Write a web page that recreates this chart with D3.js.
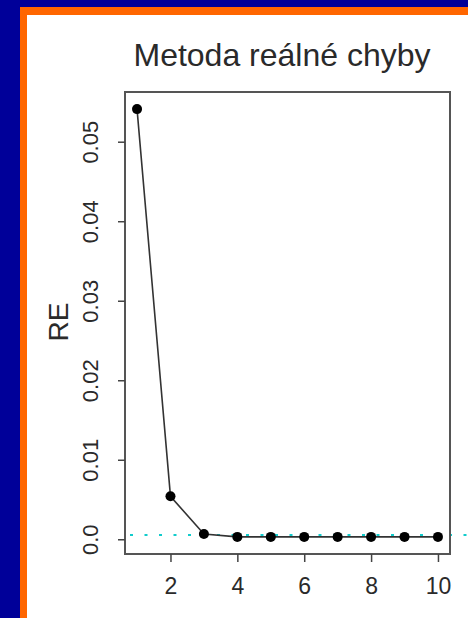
<!DOCTYPE html>
<html><head><meta charset="utf-8">
<script src="https://cdn.jsdelivr.net/npm/d3@7"></script>
<style>
html,body{margin:0;padding:0;background:#000099;}
svg{display:block;}
text{font-family:"Liberation Sans",Arial,Helvetica,sans-serif;fill:#2a2a2a;}
</style></head>
<body>
<svg id="chart" width="468" height="618"></svg>
<script>
const xValues = [1, 2, 3, 4, 5, 6, 7, 8, 9, 10];
const reValues = [0.0541, 0.0054, 0.00066, 0.0003, 0.0003, 0.0003, 0.0003, 0.0003, 0.0003, 0.0003];
const refLineValue = 0.00053;
const xTicks = [2, 4, 6, 8, 10];
const yTicks = [0, 0.01, 0.02, 0.03, 0.04, 0.05];
const yTickLabels = ["0.0", "0.01", "0.02", "0.03", "0.04", "0.05"];
const titleText = "Metoda reálné chyby";
const yLabel = "RE";

const svg = d3.select("#chart");
// slide frame
svg.append("rect").attr("x",0).attr("y",0).attr("width",468).attr("height",618).attr("fill","#000099");
svg.append("rect").attr("x",20).attr("y",7).attr("width",448).attr("height",611).attr("fill","#ff6600");
svg.append("rect").attr("x",27).attr("y",15).attr("width",441).attr("height",603).attr("fill","#ffffff");

const box = {left:125, top:92, right:450, bottom:554};
function pad(ext){const r=ext[1]-ext[0];return [ext[0]-0.04*r, ext[1]+0.04*r];}
const x = d3.scaleLinear().domain(pad(d3.extent(xValues))).range([box.left, box.right]);
const y = d3.scaleLinear().domain(pad(d3.extent(reValues))).range([box.bottom, box.top]);

// reference line (cyan dotted)
svg.append("line")
  .attr("x1", box.left + 5).attr("x2", 468)
  .attr("y1", y(refLineValue)).attr("y2", y(refLineValue))
  .attr("stroke","#11cccc").attr("stroke-width",2).attr("stroke-dasharray","3,11.5");

// line
const pts = xValues.map((d,i)=>[d, reValues[i]]);
svg.append("path").datum(pts)
  .attr("d", d3.line().x(d=>x(d[0])).y(d=>y(d[1])))
  .attr("fill","none").attr("stroke","#333").attr("stroke-width",1.6);
svg.selectAll("circle.pt").data(pts).enter().append("circle")
  .attr("class","pt").attr("cx",d=>x(d[0])).attr("cy",d=>y(d[1])).attr("r",5)
  .attr("fill","#000");

// box
svg.append("rect").attr("x",box.left).attr("y",box.top)
  .attr("width",box.right-box.left).attr("height",box.bottom-box.top)
  .attr("fill","none").attr("stroke","#555").attr("stroke-width",2);

// x axis
const xAxis = d3.axisBottom(x).tickValues(xTicks).tickSize(8).tickPadding(16).tickFormat(d3.format("d"));
const gx = svg.append("g").attr("transform",`translate(0,${box.bottom})`).call(xAxis);
gx.select(".domain").remove();
gx.selectAll(".tick line").attr("stroke","#444").attr("stroke-width",1.5);
gx.selectAll(".tick text").attr("font-size",23).attr("fill","#2a2a2a")
  .attr("font-family","Liberation Sans, Arial, sans-serif");

// y axis
const yAxis = d3.axisLeft(y).tickValues(yTicks).tickSize(7).tickPadding(0)
  .tickFormat((d,i)=>yTickLabels[i]);
const gy = svg.append("g").attr("transform",`translate(${box.left},0)`).call(yAxis);
gy.select(".domain").remove();
gy.selectAll(".tick line").attr("stroke","#444").attr("stroke-width",1.5);
gy.selectAll(".tick text").attr("font-size",22).attr("fill","#2a2a2a")
  .attr("font-family","Liberation Sans, Arial, sans-serif")
  .attr("x",0).attr("dy",null)
  .attr("text-anchor","middle")
  .attr("transform","translate(-27,0) rotate(-90)");

// title
svg.append("text").attr("x",282).attr("y",66).attr("text-anchor","middle")
  .attr("font-size",32).text(titleText);
// y label
svg.append("text").attr("transform","translate(68,322) rotate(-90)")
  .attr("text-anchor","middle").attr("font-size",28).text(yLabel);
</script>
</body></html>
